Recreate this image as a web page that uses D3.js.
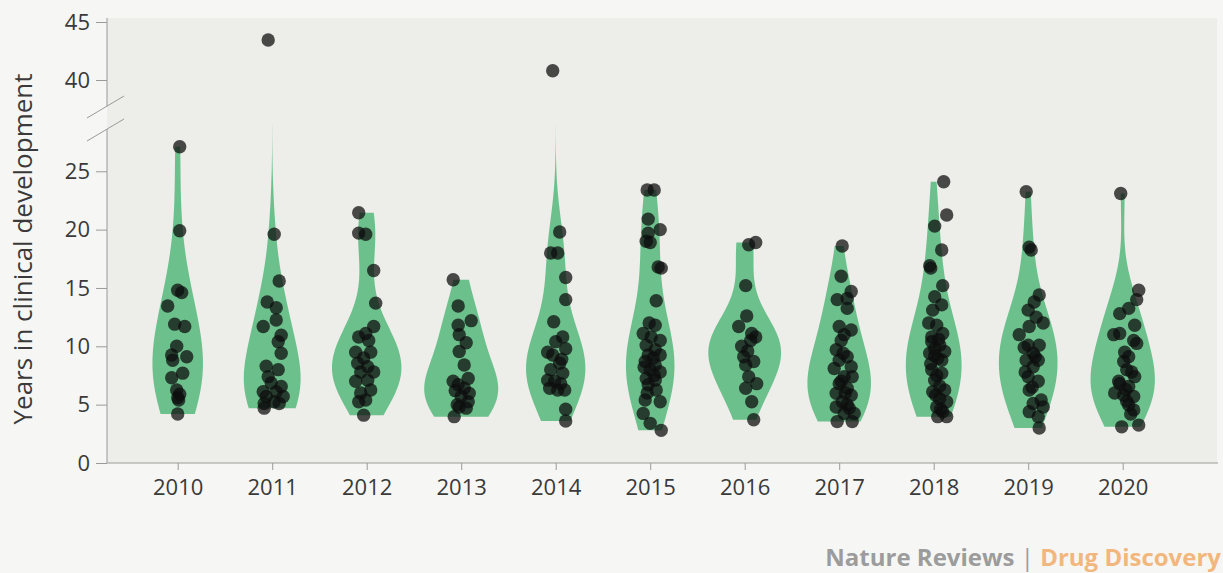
<!DOCTYPE html>
<html>
<head>
<meta charset="utf-8">
<script src="https://cdn.jsdelivr.net/npm/d3@7"></script>
<style>
html,body{margin:0;padding:0;background:#f6f6f4;}
svg{display:block;}
text{font-family:"Open Sans",sans-serif;}
</style>
</head>
<body>
<svg id="chart" width="1223" height="573"></svg>
<script>
// ---- data ----
const years = ["2010","2011","2012","2013","2014","2015","2016","2017","2018","2019","2020"];
const yTicksLower = [0,5,10,15,20,25];
const yTicksUpper = [40,45];
const yTitle = "Years in clinical development";

const v2010 = [27.1,19.9,14.8,14.6,13.45,11.9,11.7,10.0,9.25,9.1,8.8,7.7,7.3,6.25,5.9,5.6,5.4,4.2];
const j2010 = [2,2,0,4,-10,-3,7,-1,-6,9,-5,5,-6,-1,2,0,1,0];
const v2011 = [43.45,19.6,15.6,13.8,13.3,12.25,11.7,10.95,10.4,9.4,8.3,8.0,7.4,6.85,6.55,6.1,6.1,5.7,5.7,5.25,5.1,5.1,4.7];
const j2011 = [-4,2,7,-5,4,4,-9,9,6,9,-6,6,-4,-1,9,4,-9,-6,11,2,-8,7,-8];
const v2012 = [21.45,19.7,19.6,16.5,13.7,11.7,11.1,10.8,10.5,9.5,9.5,9.0,8.55,8.25,7.8,7.8,7.0,7.1,6.25,6.0,5.4,5.25,4.1];
const j2012 = [-8,-8,-1,7,9,7,-1,-8,2,-11,4,-3,-9,1,-6,7,-11,1,4,-6,-1,-8,-3];
const v2013 = [15.7,13.45,12.2,11.8,11.0,10.3,9.55,8.4,7.25,7.0,6.7,6.4,6.2,5.97,5.7,5.25,5.0,4.8,4.7,3.97];
const j2013 = [-8,-3,10,-3,-2,5,-2,3,7,-8,-3,3,-6,8,0,7,-4,-2,5,-7];
const v2014 = [40.8,19.8,18.0,18.0,15.9,14.0,12.1,10.8,10.4,9.8,9.5,9.25,8.9,8.55,8.0,7.7,7.1,7.0,6.8,6.4,6.25,6.25,4.6,3.6];
const j2014 = [-3,4,-5,2,10,10,-2,7,0,10,-8,-3,6,4,-5,7,-8,-1,5,-6,2,9,10,10];
const v2015 = [23.4,23.4,20.9,20.0,19.7,19.0,18.9,16.8,16.7,13.9,12.0,11.8,11.1,10.8,10.5,10.1,9.7,9.25,9.25,9.0,8.7,8.4,8.2,8.0,7.8,7.5,7.25,7.1,6.7,6.25,6.0,5.4,5.25,4.25,3.4,2.8];
const j2015 = [-3,4,-2,10,-2,-4,0,8,11,6,-1,5,-7,1,10,-4,5,-2,10,3,-5,5,-6,0,10,4,-4,5,-2,6,-3,-5,10,-7,0,11];
const v2016 = [18.9,18.7,15.2,12.6,11.7,11.1,10.8,10.5,10.0,9.6,9.1,8.7,8.4,7.4,6.8,6.4,5.25,3.7];
const j2016 = [11,4,1,2,-6,7,11,6,-3,3,-1,9,1,4,12,1,7,9];
const v2017 = [18.6,16.0,14.7,14.1,14.0,13.25,11.7,11.4,11.0,10.5,9.7,9.4,9.1,8.8,8.1,8.25,7.4,7.4,7.0,6.8,6.4,6.0,5.97,5.8,5.25,5.0,4.8,4.7,4.25,4.25,3.55,3.55];
const j2017 = [3,2,12,8,-2,8,0,12,5,2,-3,4,8,0,-5,12,5,13,2,0,8,6,-3,12,3,8,-3,10,5,15,-2,13];
const v2018 = [24.1,21.25,20.3,18.25,16.9,16.7,15.2,14.25,13.55,13.1,12.0,11.8,11.1,10.8,10.6,10.4,10.1,9.8,9.55,9.4,9.2,8.97,8.8,8.5,8.0,7.7,7.5,7.1,6.6,6.25,6.1,5.8,5.5,5.25,4.8,4.6,4.4,3.97,3.97];
const j2018 = [10,13,1,8,-4,-3,9,1,8,-1,-5,3,9,-2,5,-2,6,1,11,-4,1,4,8,-3,-2,8,3,1,6,11,-1,2,6,13,3,7,9,4,13];
const v2019 = [23.25,18.5,18.25,14.4,13.8,13.1,12.5,12.0,11.7,11.0,10.1,10.1,9.9,9.4,9.1,8.8,8.8,8.25,7.8,7.4,7.0,6.5,6.25,5.4,5.1,4.8,4.4,3.97,3.0];
const j2019 = [-2,1,3,11,6,0,8,15,1,-9,0,11,-4,5,7,-2,10,5,-3,0,10,4,1,13,5,15,1,10,11];
const v2020 = [23.1,14.8,14.0,13.25,12.8,11.8,11.1,11.0,10.5,10.25,9.5,9.1,8.7,8.0,7.8,7.4,7.0,6.8,6.55,6.3,6.0,5.8,5.7,5.3,4.97,4.55,4.2,3.1,3.25];
const j2020 = [-2,16,14,6,-3,12,-3,-9,11,14,2,6,1,4,9,12,-4,-3,6,3,-8,1,11,4,6,11,8,-1,16];

const seriesValues = [v2010,v2011,v2012,v2013,v2014,v2015,v2016,v2017,v2018,v2019,v2020];
const seriesJitter = [j2010,j2011,j2012,j2013,j2014,j2015,j2016,j2017,j2018,j2019,j2020];

// ---- layout ----
const svg = d3.select("#chart");
const panel = {left:107, right:1217, top:18, bottom:463};
const lowerTop = 29, upperBottom = 38, upperTop = 45;
const bwAdjust = 1.5;

const y = d3.scaleLinear()
  .domain([0, lowerTop, upperBottom, upperTop])
  .range([463, 124.6, 103.2, 22]);
const x = d3.scalePoint().domain(years).range([177.7, 1122.7]);
const jit = d3.scaleLinear().domain([-10,10]).range([-10,10]);

// panel background
svg.append("rect").attr("x",panel.left).attr("y",panel.top)
  .attr("width",panel.right-panel.left).attr("height",panel.bottom-panel.top)
  .attr("fill","#ededea");

// clip for violins (lower segment only)
svg.append("clipPath").attr("id","lowclip").append("rect")
  .attr("x",panel.left).attr("y",y(lowerTop))
  .attr("width",panel.right-panel.left).attr("height",panel.bottom-y(lowerTop));

// KDE
function gauss(u){return Math.exp(-0.5*u*u)/Math.sqrt(2*Math.PI);}
function bwNrd0(vals){
  const n=vals.length, s=d3.deviation(vals);
  const sorted=vals.slice().sort(d3.ascending);
  const iqr=d3.quantile(sorted,0.75)-d3.quantile(sorted,0.25);
  const lo=Math.min(s, iqr/1.34);
  return 0.9*lo*Math.pow(n,-0.2);
}
const densities = seriesValues.map(vals=>{
  const bw=bwNrd0(vals)*bwAdjust;
  const [mn,mx]=d3.extent(vals);
  const N=200, pts=[];
  for(let i=0;i<=N;i++){
    const t=mn+(mx-mn)*i/N;
    const d=d3.mean(vals,v=>gauss((t-v)/bw))/bw;
    pts.push([t,d]);
  }
  return pts;
});
const maxD = d3.max(densities, ds=>d3.max(ds,d=>d[1]));
const w = d3.scaleLinear().domain([0,maxD]).range([0,37]);

const vg = svg.append("g").attr("clip-path","url(#lowclip)");
densities.forEach((ds,i)=>{
  const cx=x(years[i]);
  const area=d3.area()
    .x0(d=>cx-w(d[1])).x1(d=>cx+w(d[1]))
    .y(d=>y(d[0]))
    .curve(d3.curveBasis);
  vg.append("path").datum(ds.filter(d=>d[0]<=lowerTop+1)).attr("d",area).attr("fill","#6cc08c");
});

// points
const pg = svg.append("g");
seriesValues.forEach((vals,i)=>{
  const cx=x(years[i]);
  vals.forEach((v,k)=>{
    pg.append("circle").attr("cx",cx+jit(seriesJitter[i][k])).attr("cy",y(v))
      .attr("r",6.7).attr("fill","#0e0e0e").attr("fill-opacity",0.74);
  });
});

// y axis
const axisColor="#9a9a9a", textColor="#3a3a3a";
const yAx = svg.append("g").attr("transform",`translate(${panel.left},0)`)
  .call(d3.axisLeft(y).tickValues(yTicksLower.concat(yTicksUpper)).tickSize(11).tickPadding(6));
yAx.select(".domain").remove();
yAx.selectAll(".tick line").attr("stroke",axisColor);
yAx.selectAll(".tick text").attr("fill",textColor).style("font-size","22px").style("font-family","'Open Sans',sans-serif");
// axis line with break
svg.append("line").attr("x1",panel.left).attr("x2",panel.left).attr("y1",panel.top).attr("y2",106).attr("stroke",axisColor);
svg.append("line").attr("x1",panel.left).attr("x2",panel.left).attr("y1",129).attr("y2",panel.bottom).attr("stroke",axisColor);
svg.append("line").attr("x1",87).attr("y1",118).attr("x2",124).attr("y2",96).attr("stroke",axisColor);
svg.append("line").attr("x1",87).attr("y1",141).attr("x2",124).attr("y2",119).attr("stroke",axisColor);

// x axis
const xAx = svg.append("g").attr("transform",`translate(0,${panel.bottom})`)
  .call(d3.axisBottom(x).tickSize(7).tickPadding(9));
xAx.select(".domain").attr("d",`M${panel.left},0H1218`).attr("stroke",axisColor);
xAx.selectAll(".tick line").attr("stroke",axisColor);
xAx.selectAll(".tick text").attr("fill",textColor).style("font-size","22px").style("font-family","'Open Sans',sans-serif");

// y title
svg.append("text").attr("transform","translate(32,249) rotate(-90)")
  .attr("text-anchor","middle").attr("fill",textColor)
  .style("font-size","26px").text(yTitle);

// footer
const ft = svg.append("text").attr("x",1221).attr("y",566).attr("text-anchor","end")
  .style("font-size","24px").style("font-weight","700");
ft.append("tspan").attr("fill","#9c9c9c").text("Nature Reviews ");
ft.append("tspan").attr("fill","#9c9c9c").style("font-weight","400").text("|");
ft.append("tspan").attr("fill","#f2b77c").text(" Drug Discovery");
</script>
</body>
</html>
